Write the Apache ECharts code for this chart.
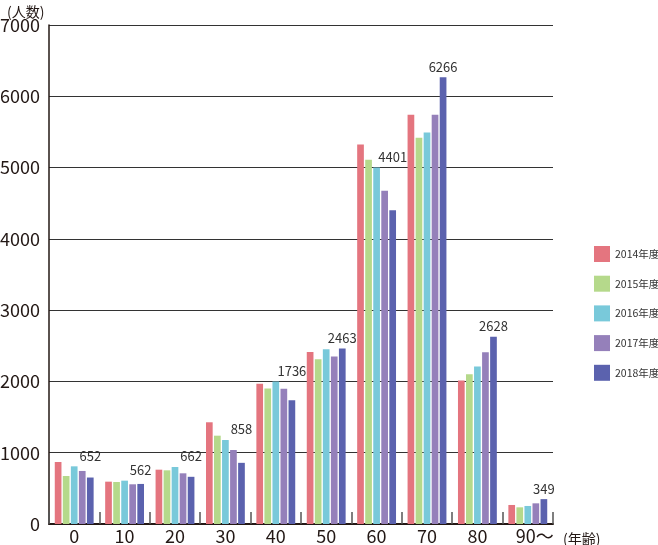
<!DOCTYPE html>
<html>
<head>
<meta charset="utf-8">
<script src="https://cdn.jsdelivr.net/npm/echarts@6/dist/echarts.min.js"></script>
<style>
html,body{margin:0;padding:0;background:#fff;}
#chart{width:658px;height:545px;}
</style>
</head>
<body>
<div id="chart"></div>
<script>
const categories = ['0','10','20','30','40','50','60','70','80','90～'];
const years = ['2014年度','2015年度','2016年度','2017年度','2018年度'];
const v2014 = [870, 594, 762, 1427, 1968, 2413, 5324, 5742, 2014, 267];
const v2015 = [673, 589, 753, 1239, 1901, 2310, 5108, 5418, 2099, 234];
const v2016 = [809, 608, 800, 1178, 2000, 2451, 5000, 5493, 2211, 253];
const v2017 = [744, 557, 711, 1038, 1897, 2348, 4676, 5742, 2408, 290];
const v2018 = [652, 562, 662, 858, 1736, 2463, 4401, 6266, 2628, 349];
const yMin = 0, yMax = 7000, yStep = 1000;

const colors = ['#E4757F','#B5D98B','#79C9DA','#9580BA','#5B62AE'];
const FONT = '"Noto Sans CJK JP", "Noto Sans", sans-serif';
const GRID = {left:49, right:105, top:25, bottom:21};
const plotH = 545 - GRID.top - GRID.bottom;
const pxPerUnit = plotH / (yMax - yMin);

const seriesValues = [v2014, v2015, v2016, v2017, v2018];

const lastData = v2018.map((v, i) => {
  const ref = Math.max(v2016[i], v2017[i], v2018[i]);
  return {
    value: v,
    label: { offset: [0, -(ref - v) * pxPerUnit] }
  };
});

const series = seriesValues.map((vals, si) => ({
  name: years[si],
  type: 'bar',
  barWidth: 6.7,
  barGap: '20%',
  itemStyle: { color: colors[si] },
  data: si === 4 ? lastData : vals,
  label: si === 4 ? {
    show: true, position: 'top', distance: 4,
    color: '#333', fontSize: 13, fontFamily: FONT
  } : { show: false },
  emphasis: { disabled: true },
  animation: false
}));

const chart = echarts.init(document.getElementById('chart'), null, {renderer:'canvas'});
chart.setOption({
  animation: false,
  textStyle: { fontFamily: FONT },
  title: [
    { text: '(人数)', left: 2, top: 0,
      textStyle: { fontSize: 14, fontWeight: 'normal', color: '#231815', fontFamily: FONT } },
    { text: '(年齢)', left: 558, top: 527,
      textStyle: { fontSize: 14, fontWeight: 'normal', color: '#231815', fontFamily: FONT } }
  ],
  legend: {
    orient: 'vertical', left: 589, top: 241,
    itemWidth: 16, itemHeight: 16, itemGap: 13.7,
    icon: 'rect',
    data: years,
    textStyle: { fontSize: 10.5, color: '#333', fontFamily: FONT },
    selectedMode: false
  },
  grid: { left: GRID.left, right: GRID.right, top: GRID.top, bottom: GRID.bottom,
          containLabel: false, outerBoundsMode: 'none' },
  xAxis: {
    type: 'category',
    data: categories.map((c, i) => i === categories.length - 1
      ? { value: c, textStyle: { padding: [0, 0, 0, 14] } } : c),
    axisLine: { lineStyle: { color: '#231815', width: 2 } },
    axisTick: { show: true, inside: true, length: 12, lineStyle: { color: '#555', width: 1.5 } },
    axisLabel: { fontSize: 18, color: '#231815', margin: 3, fontFamily: FONT },
    splitLine: { show: false }
  },
  yAxis: {
    type: 'value', min: yMin, max: yMax, interval: yStep,
    axisLine: { show: true, lineStyle: { color: '#231815', width: 1.5 } },
    axisTick: { show: false },
    axisLabel: { fontSize: 18, color: '#231815', margin: 9, fontFamily: FONT,
                 formatter: v => String(v) },
    splitLine: { show: true, lineStyle: { color: '#333', width: 1 } }
  },
  series: series
});
</script>
</body>
</html>
